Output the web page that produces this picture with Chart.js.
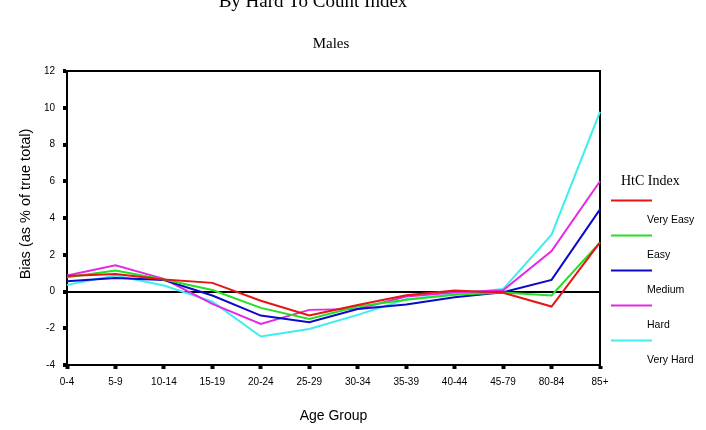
<!DOCTYPE html>
<html>
<head>
<meta charset="utf-8">
<script src="https://cdn.jsdelivr.net/npm/chart.js@4"></script>
<style>
  body { margin: 0; background: #fff; }
  #wrap { width: 706px; height: 430px; }
</style>
</head>
<body>
<div id="wrap"><canvas id="biasChart" width="706" height="430"></canvas></div>
<script>
// Age groups along the x axis
const ageGroups = ["0-4", "5-9", "10-14", "15-19", "20-24", "25-29", "30-34", "35-39", "40-44", "45-79", "80-84", "85+"];

// Bias (as % of true total)
const veryEasy = [0.85, 0.95, 0.65, 0.47, -0.5, -1.3, -0.73, -0.2, 0.05, -0.07, -0.82, 2.67];
const easy     = [0.78, 1.14, 0.65, 0.08, -0.89, -1.49, -0.82, -0.45, -0.18, -0.05, -0.22, 2.67];
const medium   = [0.56, 0.74, 0.62, -0.22, -1.31, -1.67, -0.95, -0.71, -0.31, -0.04, 0.63, 4.47];
const hard     = [0.87, 1.43, 0.69, -0.67, -1.76, -1.0, -0.95, -0.27, -0.05, 0.07, 2.2, 6.0];
const veryHard = [0.36, 0.87, 0.33, -0.55, -2.45, -2.04, -1.27, -0.42, -0.15, 0.13, 3.09, 9.77];

const seriesNames = ["Very Easy", "Easy", "Medium", "Hard", "Very Hard"];
const seriesColors = ["#e61414", "#22e022", "#0a0ac8", "#e628e6", "#3ceef0"];

const yTicks = { min: -4, max: 12, step: 2 };

const allSeries = [veryEasy, easy, medium, hard, veryHard];

// Titles, y axis label, legend and the frame
const decorPlugin = {
    id: "decor",
    beforeDatasetsDraw(chart) {
        const { ctx, chartArea } = chart;
        ctx.save();
        ctx.strokeStyle = "#000";
        ctx.lineWidth = 2;
        ctx.beginPath();
        ctx.moveTo(chartArea.left, chartArea.top);
        ctx.lineTo(chartArea.right, chartArea.top);
        ctx.lineTo(chartArea.right, chartArea.bottom);
        ctx.stroke();
        ctx.restore();
    },
    afterDraw(chart) {
        const ctx = chart.ctx;
        ctx.save();
        ctx.fillStyle = "#000";
        ctx.textAlign = "center";
        ctx.textBaseline = "alphabetic";
        ctx.font = "19px 'Liberation Serif', 'Times New Roman', serif";
        ctx.fillText("By Hard To Count Index", 313, 7);

        ctx.textBaseline = "middle";
        ctx.font = "15px 'Liberation Serif', 'Times New Roman', serif";
        ctx.fillText("Males", 331, 44);

        // y axis title
        ctx.save();
        ctx.translate(26, 204);
        ctx.rotate(-Math.PI / 2);
        ctx.font = "14.5px 'Liberation Sans', Arial, sans-serif";
        ctx.fillText("Bias (as % of true total)", 0, 0);
        ctx.restore();

        // legend
        ctx.textAlign = "left";
        ctx.font = "14px 'Liberation Serif', 'Times New Roman', serif";
        ctx.fillText("HtC Index", 621, 181);
        ctx.font = "10.5px 'Liberation Sans', Arial, sans-serif";
        seriesNames.forEach((name, i) => {
            const ly = 200.5 + i * 35;
            ctx.strokeStyle = seriesColors[i];
            ctx.lineWidth = 2;
            ctx.beginPath();
            ctx.moveTo(611, ly);
            ctx.lineTo(652, ly);
            ctx.stroke();
            ctx.fillText(name, 647, ly + 20);
        });
        ctx.restore();
    }
};

const ctx = document.getElementById("biasChart").getContext("2d");

const biasChart = new Chart(ctx, {
    type: "line",
    data: {
        labels: ageGroups,
        datasets: allSeries.map((values, i) => ({
            label: seriesNames[i],
            data: values,
            borderColor: seriesColors[i],
            backgroundColor: seriesColors[i],
            borderWidth: 2,
            tension: 0,
            fill: false,
            pointRadius: 0
        }))
    },
    options: {
        responsive: false,
        animation: false,
        layout: {
            padding: { top: 71, right: 106, left: 0, bottom: 0 }
        },
        plugins: {
            legend: { display: false },
            tooltip: { enabled: false }
        },
        scales: {
            x: {
                afterFit(scale) { scale.height = 65; },
                border: { color: "#000", width: 2 },
                grid: {
                    drawOnChartArea: false,
                    tickColor: "#000",
                    tickLength: 4,
                    tickWidth: 4
                },
                ticks: {
                    color: "#000",
                    padding: 7,
                    maxRotation: 0,
                    autoSkip: false,
                    font: { family: "'Liberation Sans', Arial, sans-serif", size: 10 }
                },
                title: {
                    display: true,
                    text: "Age Group",
                    color: "#000",
                    padding: { top: 0, bottom: 5 },
                    font: { family: "'Liberation Sans', Arial, sans-serif", size: 14 }
                }
            },
            y: {
                min: yTicks.min,
                max: yTicks.max,
                afterFit(scale) { scale.width = 67; },
                border: { color: "#000", width: 2 },
                grid: {
                    color: (c) => (c.tick && c.tick.value === 0 ? "#000" : "rgba(0,0,0,0)"),
                    lineWidth: 2,
                    tickColor: "#000",
                    tickLength: 4,
                    tickWidth: 4
                },
                ticks: {
                    stepSize: yTicks.step,
                    color: "#000",
                    padding: 8,
                    font: { family: "'Liberation Sans', Arial, sans-serif", size: 10 }
                }
            }
        }
    },
    plugins: [decorPlugin]
});
</script>
</body>
</html>
